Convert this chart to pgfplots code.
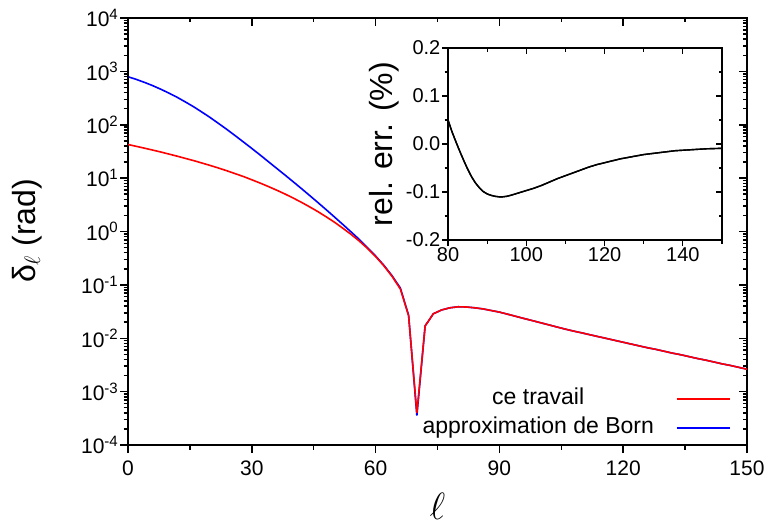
\RequirePackage{fix-cm}
\documentclass[border=0pt]{standalone}
\usepackage{fontspec}
\setmainfont{Liberation Sans}
\usepackage{pgfplots}
\pgfplotsset{compat=1.18}
\newcommand{\tp}[1]{10\raisebox{7.5pt}{\fontsize{15}{15}\selectfont #1}}
\pgfplotstableread{
l blue red
0 794 42.7
2 708 39.4
4 622 36.4
6 540 33.5
8 461 30.8
10 389 28.1
12 324 25.7
14 265 23.3
16 215 21.2
18 171 19.1
20 135 17.2
22 105 15.4
24 81.3 13.7
26 62.2 12.1
28 47.4 10.7
30 36.0 9.31
32 27.2 8.09
34 20.4 6.97
36 15.3 5.96
38 11.5 5.06
40 8.59 4.25
42 6.40 3.53
44 4.74 2.90
46 3.50 2.36
48 2.57 1.89
50 1.88 1.50
52 1.37 1.16
54 0.991 0.891
56 0.716 0.667
58 0.501 0.485
60 0.348 0.340
62 0.233 0.228
64 0.148 0.144
66 0.0871 0.0836
68 0.0269 0.0263
70 3.55e-4 3.98e-4
72 0.0170 0.0170
74 0.0288 0.0288
76 0.0339 0.0339
78 0.0372 0.0372
80 0.0389 0.0389
82 0.0385 0.0385
84 0.0372 0.0372
86 0.0355 0.0355
88 0.0331 0.0331
90 0.0309 0.0309
92 0.0282 0.0282
94 0.0257 0.0257
96 0.0234 0.0234
98 0.0214 0.0214
100 0.0195 0.0195
102 0.0178 0.0178
104 0.0162 0.0162
106 0.0148 0.0148
108 0.0136 0.0136
110 0.0126 0.0126
112 0.0116 0.0116
114 0.0107 0.0107
116 0.00989 0.00989
118 0.00912 0.00912
120 0.00841 0.00841
122 0.00776 0.00776
124 0.00716 0.00716
126 0.00661 0.00661
128 0.00617 0.00617
130 0.00569 0.00569
132 0.00525 0.00525
134 0.00490 0.00490
136 0.00452 0.00452
138 0.00417 0.00417
140 0.00389 0.00389
142 0.00359 0.00359
144 0.00331 0.00331
146 0.00309 0.00309
148 0.00285 0.00285
150 0.00263 0.00263
}\deltatab
\pgfplotstableread{
l err
80 0.050
81 0.026
82 0.005
83 -0.015
84 -0.034
85 -0.052
86 -0.068
87 -0.081
88 -0.091
89 -0.099
90 -0.104
91 -0.107
92 -0.109
93 -0.110
94 -0.110
95 -0.109
96 -0.107
98 -0.102
100 -0.097
102 -0.092
104 -0.086
106 -0.079
108 -0.072
110 -0.066
112 -0.060
114 -0.054
116 -0.048
118 -0.043
120 -0.039
122 -0.035
124 -0.031
126 -0.028
128 -0.025
130 -0.022
132 -0.020
134 -0.018
136 -0.016
138 -0.014
140 -0.013
142 -0.012
144 -0.011
146 -0.010
148 -0.0095
150 -0.009
}\errtab
\pgfplotsset{
  mainbox/.style={at={(128pt,86pt)}, anchor=south west, scale only axis,
    width=619pt, height=427pt, xmin=0, xmax=150, ymin=1e-4, ymax=1e4,
    axis line style={line width=1.8pt}, tick style={line width=1.5pt, black},
    major tick length=8pt,
    xtick={0,30,60,90,120,150},
    ytick={1e-4,1e-3,1e-2,1e-1,1,10,100,1000,10000},
    extra x ticks={15,45,75,105,135},
    extra y ticks={2e-4,3e-4,4e-4,5e-4,6e-4,7e-4,8e-4,9e-4,
      2e-3,3e-3,4e-3,5e-3,6e-3,7e-3,8e-3,9e-3,
      2e-2,3e-2,4e-2,5e-2,6e-2,7e-2,8e-2,9e-2,
      0.2,0.3,0.4,0.5,0.6,0.7,0.8,0.9,
      2,3,4,5,6,7,8,9, 20,30,40,50,60,70,80,90,
      200,300,400,500,600,700,800,900, 2000,3000,4000,5000,6000,7000,8000,9000},
    extra x tick labels={}, extra y tick labels={},
    extra tick style={major tick length=4.5pt}},
  insetbox/.style={at={(448pt,291pt)}, anchor=south west, scale only axis,
    width=274pt, height=192pt, xmin=80, xmax=150, ymin=-0.2, ymax=0.2,
    axis line style={line width=1.1pt}, tick style={line width=1.1pt, black},
    major tick length=6pt,
    xtick={80,100,120,140}, ytick={-0.2,-0.1,0,0.1,0.2},
    extra x ticks={90,110,130,150}, extra y ticks={-0.15,-0.05,0.05,0.15},
    extra x tick labels={}, extra y tick labels={},
    extra tick style={major tick length=3.5pt}}
}
\begin{document}
\begin{tikzpicture}[x=1pt,y=1pt]
\useasboundingbox (0,0) rectangle (767,531);
\begin{axis}[ymode=log, mainbox, tick align=outside, tick pos=left,
  yticklabels={\tp{-4},\tp{-3},\tp{-2},\tp{-1},\tp{0},\tp{1},\tp{2},\tp{3},\tp{4}},
  xticklabels={0,30,60,90,120,150},
  ticklabel style={font=\fontsize{21}{21}\selectfont},
  yticklabel style={inner sep=2pt},
  xticklabel style={inner sep=2pt, yshift=-6pt},
  xlabel={$\ell$}, xlabel style={font=\fontsize{38}{38}\selectfont, inner sep=0pt, at={(axis description cs:0.5,-0.143)}, anchor=center}]
\addplot[blue, line width=1.6pt] table[x=l, y=blue] {\deltatab};
\end{axis}
\begin{axis}[ymode=log, mainbox, tick align=inside, tick pos=right, xticklabels={}, yticklabels={},
  legend plot pos=right,
  legend image code/.code={\draw[#1] (0pt,0pt) -- (53pt,0pt);},
  legend style={draw=none, fill=none, at={(0.9737,0.005)}, anchor=south east,
    font=\fontsize{23}{23}\selectfont, inner sep=0pt,
    cells={anchor=center},
    nodes={inner sep=4pt, text height=16pt, text depth=5pt},
    /tikz/every odd column/.append style={column sep=18pt}}]
\addplot[red, line width=1.6pt] table[x=l, y=red] {\deltatab};
\addlegendentry{\fontsize{23}{23}\selectfont ce travail}
\addlegendimage{blue, line width=1.6pt}
\addlegendentry{\fontsize{23}{23}\selectfont approximation de Born}
\end{axis}
\node[rotate=90, font=\fontsize{32}{32}\selectfont, inner sep=0pt] at (27,300) {δ$_{\ell}$ (rad)};
\begin{axis}[insetbox, tick align=outside, tick pos=left,
  xticklabels={80,100,120,140}, yticklabels={-0.2,-0.1,0.0,0.1,0.2},
  ticklabel style={font=\fontsize{20}{20}\selectfont},
  yticklabel style={inner sep=1.5pt}, xticklabel style={inner sep=1.5pt},
  ylabel={rel. err. (\%)}, ylabel style={font=\fontsize{32}{32}\selectfont, at={(axis description cs:-0.234,0.5)}, anchor=center}]
\addplot[black, line width=1.4pt] table[x=l, y=err] {\errtab};
\end{axis}
\begin{axis}[insetbox, tick align=inside, tick pos=right, xticklabels={}, yticklabels={}]
\addplot[black, line width=1.4pt] table[x=l, y=err] {\errtab};
\end{axis}
\end{tikzpicture}
\end{document}
